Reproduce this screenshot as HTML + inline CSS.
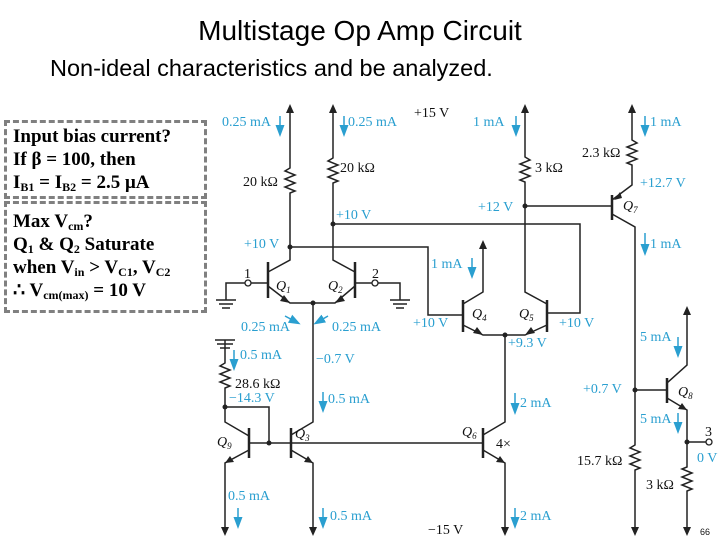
<!DOCTYPE html>
<html><head><meta charset="utf-8"><style>
body{margin:0;width:720px;height:540px;background:#fff;overflow:hidden;position:relative;font-family:"Liberation Sans",sans-serif}
.t{position:absolute;white-space:nowrap}
.box{position:absolute;border:3px dashed #808080;font-family:"Liberation Serif",serif;font-weight:bold;font-size:19px;line-height:23px;padding:2px 6px;box-sizing:border-box;white-space:nowrap}
sub{font-size:12px;vertical-align:-3px;line-height:0}
</style></head><body>
<div class="t" style="left:0;width:720px;text-align:center;top:15px;font-size:28px">Multistage Op Amp Circuit</div>
<div class="t" style="left:50px;top:55px;font-size:23.5px">Non-ideal characteristics and be analyzed.</div>
<div class="box" style="left:4px;top:120px;width:203px;height:79px;padding-top:2px">Input bias current?<br>If β = 100, then<br>I<sub>B1</sub> = I<sub>B2</sub> = 2.5 μA</div>
<div class="box" style="left:4px;top:201px;width:203px;height:112px;padding-top:6px">Max V<sub>cm</sub>?<br>Q<sub>1</sub> &amp; Q<sub>2</sub> Saturate<br>when V<sub>in</sub> &gt; V<sub>C1</sub>, V<sub>C2</sub><br>∴ V<sub>cm(max)</sub> = 10 V</div>
<svg style="position:absolute;left:0;top:0" width="720" height="540" font-family="Liberation Serif,serif" font-size="14">
<defs>
<marker id="b" markerWidth="8" markerHeight="8" refX="6" refY="4" orient="auto"><path d="M0,1 L8,4 L0,7 z" fill="#2a9fd0"/></marker>
</defs>
<g stroke="#222" stroke-width="1.5" fill="none">
<path d="M290,110 V168 l-5,3 10,4 -10,4 10,4 -10,4 10,4 -5,2 V260 L268,272"/>
<path d="M290,247 H428 V315 H463"/>
<path d="M268,262 V298" stroke-width="2.5"/>
<path d="M268,286 L290,303 H335 L355,286"/>
<path d="M333,110 V158 l-5,3 10,4 -10,4 10,4 -10,4 10,4 -5,2 V260 L355,272"/>
<path d="M355,262 V298" stroke-width="2.5"/>
<path d="M333,224 H580 V313 H547"/>
<path d="M313,303 V422 L291,435"/>
<path d="M268,283 H251 M245,283 H226 V300 M216,300 H236 M219,304 H233 M222,308 H230"/>
<path d="M355,283 H372 M378,283 H400 V300 M390,300 H410 M393,304 H407 M396,308 H404"/>
<path d="M463,300 V332 M547,300 V332" stroke-width="2.5"/>
<path d="M483,245 V292 L463,304 M463,325 L483,335 H525 L547,325 M547,304 L525,292 V182 l-5,-2 10,-4 -10,-4 10,-4 -10,-4 10,-4 -5,-3 V110"/>
<path d="M525,206 H612 M505,335 V422 L483,435"/>
<path d="M612,195 V220" stroke-width="2.5"/>
<path d="M612,200 L632,185 V165 l-5,-2 10,-4 -10,-4 10,-4 -10,-4 10,-4 -5,-3 V110 M612,214 L635,227 V445 l-5,3 10,4 -10,4 10,4 -10,4 10,4 -5,2 V530"/>
<path d="M667,378 V403" stroke-width="2.5"/>
<path d="M635,390 H667 M667,383 L687,365 V310 M667,398 L687,410 V442 H706 M687,442 V467 l-5,2 10,4 -10,4 10,4 -10,4 10,4 -5,2 V530"/>
<path d="M291,428 V458 M483,428 V458 M249,428 V458" stroke-width="2.5"/>
<path d="M249,443 H483 M291,450 L313,463 V530 M483,450 L505,463 V530"/>
<path d="M225,340 V363 l-5,3 10,4 -10,4 10,4 -10,4 10,4 -5,2 V422 L249,436 M225,407 H269 V443 M249,450 L225,463 V530"/>
<path d="M215,340 H235 M217,344 H233 M220,348 H230" />
</g>
<g fill="#222">
<circle cx="290" cy="247" r="2.5"/><circle cx="333" cy="224" r="2.5"/><circle cx="313" cy="303" r="2.5"/>
<circle cx="505" cy="335" r="2.5"/><circle cx="525" cy="206" r="2.5"/><circle cx="635" cy="390" r="2.5"/>
<circle cx="687" cy="442" r="2.5"/><circle cx="225" cy="407" r="2.5"/><circle cx="269" cy="443" r="2.5"/>
<path d="M290,303 l-10,-2 4,-6z M335,303 l10,-2 -4,-6z M483,335 l-10,-2 4,-6z M525,335 l10,-2 -4,-6z M614,200 l8,-2 -2,-6z M687,410 l-9,-1 4,-6z M313,463 l-9,-1 4,-6z M505,463 l-9,-1 4,-6z M225,463 l9,-1 -4,-6z"/>
<path d="M290,104 l-4,9 h8z M333,104 l-4,9 h8z M483,240 l-4,9 h8z M525,104 l-4,9 h8z M632,104 l-4,9 h8z M687,306 l-4,9 h8z M225,536 l-4,-9 h8z M313,536 l-4,-9 h8z M505,536 l-4,-9 h8z M635,536 l-4,-9 h8z M687,536 l-4,-9 h8z"/>
</g>
<g fill="#fff" stroke="#222" stroke-width="1.3"><circle cx="248" cy="283" r="3"/><circle cx="375" cy="283" r="3"/><circle cx="709" cy="442" r="3"/></g>
<g stroke="#2a9fd0" stroke-width="1.5" marker-end="url(#b)">
<path d="M280,116 V134"/><path d="M344,116 V134"/><path d="M516,116 V134"/><path d="M645,116 V134"/>
<path d="M645,233 V253"/><path d="M472,258 V276"/><path d="M285,316 L298,323"/><path d="M328,316 L316,323"/>
<path d="M234,350 V368"/><path d="M323,392 V410"/><path d="M515,393 V412"/><path d="M678,337 V355"/>
<path d="M678,413 V431"/><path d="M238,508 V526"/><path d="M323,508 V526"/><path d="M515,508 V526"/>
</g>
<g fill="#2a9fd0">
<text x="222" y="126">0.25 mA</text><text x="348" y="126">0.25 mA</text><text x="473" y="126">1 mA</text><text x="650" y="126">1 mA</text>
<text x="336" y="219">+10 V</text><text x="244" y="248">+10 V</text><text x="478" y="211">+12 V</text><text x="640" y="187">+12.7 V</text>
<text x="650" y="248">1 mA</text><text x="431" y="268">1 mA</text><text x="241" y="331">0.25 mA</text><text x="332" y="331">0.25 mA</text>
<text x="413" y="327">+10 V</text><text x="559" y="327">+10 V</text><text x="508" y="347">+9.3 V</text>
<text x="240" y="359">0.5 mA</text><text x="316" y="363">−0.7 V</text><text x="229" y="402">−14.3 V</text><text x="328" y="403">0.5 mA</text>
<text x="520" y="407">2 mA</text><text x="640" y="341">5 mA</text><text x="583" y="393">+0.7 V</text><text x="640" y="423">5 mA</text>
<text x="697" y="462">0 V</text><text x="228" y="500">0.5 mA</text><text x="330" y="520">0.5 mA</text><text x="520" y="520">2 mA</text>
</g>
<g fill="#111">
<text x="414" y="117">+15 V</text><text x="243" y="186">20 kΩ</text><text x="340" y="172">20 kΩ</text><text x="535" y="172">3 kΩ</text>
<text x="582" y="157">2.3 kΩ</text><text x="244" y="278">1</text><text x="372" y="278">2</text>
<text x="235" y="388">28.6 kΩ</text><text x="577" y="465">15.7 kΩ</text><text x="646" y="489">3 kΩ</text>
<text x="705" y="436">3</text><text x="428" y="534">−15 V</text><text x="496" y="448">4×</text>
<g font-style="italic"><text x="276" y="290">Q<tspan font-size="9" dy="3">1</tspan></text><text x="328" y="290">Q<tspan font-size="9" dy="3">2</tspan></text>
<text x="472" y="318">Q<tspan font-size="9" dy="3">4</tspan></text><text x="519" y="318">Q<tspan font-size="9" dy="3">5</tspan></text>
<text x="623" y="210">Q<tspan font-size="9" dy="3">7</tspan></text><text x="678" y="396">Q<tspan font-size="9" dy="3">8</tspan></text>
<text x="295" y="438">Q<tspan font-size="9" dy="3">3</tspan></text><text x="462" y="436">Q<tspan font-size="9" dy="3">6</tspan></text>
<text x="217" y="446">Q<tspan font-size="9" dy="3">9</tspan></text></g>
<text x="700" y="535" font-family="Liberation Sans,sans-serif" font-size="9">66</text>
</g>
</svg>
</body></html>
